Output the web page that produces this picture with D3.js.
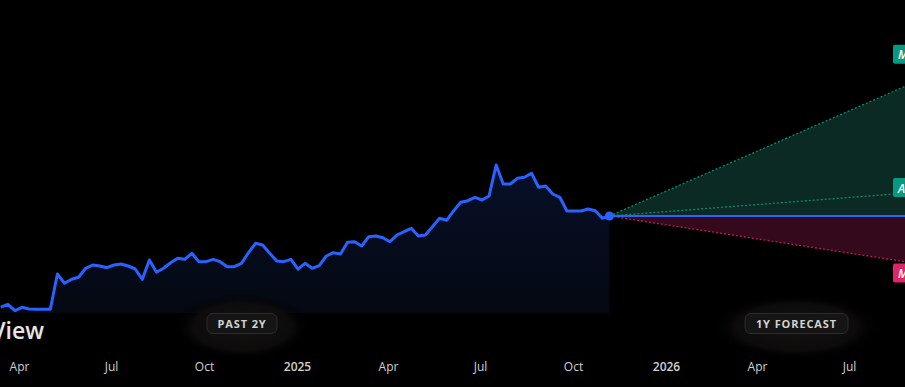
<!DOCTYPE html>
<html>
<head>
<meta charset="utf-8">
<script src="https://cdn.jsdelivr.net/npm/d3@7"></script>
<style>
  html, body { margin: 0; padding: 0; background: #000; }
  svg { display: block; }
</style>
</head>
<body>
<div id="chart"></div>
<script>
///// Data

// weekly closes, past 2Y (visible part), first week starting 2024-03-14
let firstWeek = "2024-03-14";
let closes = [
  13.9, 15.35, 12.15, 13.85, 13.0, 12.85, 12.85, 12.85, 30.5, 25.85,
  27.85, 28.85, 33.35, 35.0, 34.5, 33.65, 35.0, 35.5, 34.5, 33.0,
  27.85, 37.5, 31.35, 33.35, 36.15, 38.35, 37.85, 40.85, 36.65, 36.65,
  37.85, 36.65, 34.15, 34.15, 35.85, 41.15, 45.85, 45.0, 40.85, 37.0,
  36.65, 37.85, 32.9, 35.85, 33.35, 34.65, 39.5, 41.15, 40.5, 46.35,
  46.65, 44.5, 49.15, 49.5, 48.65, 46.65, 50.0, 51.65, 53.35, 49.5,
  50.0, 54.15, 58.35, 57.35, 62.15, 66.35, 67.15, 68.85, 67.5, 69.5,
  85.0, 75.5, 75.5, 78.35, 78.85, 80.85, 73.85, 74.5, 70.5, 68.85,
  62.0, 62.0, 62.0, 63.0, 62.15, 58.35, 59.5
];

// 1Y forecast targets
let forecastNames = ["Max", "Avg", "Min"];
let forecastValues = [140.4, 73.75, 31.0];

// x axis
let tickDates = ["2024-04-01", "2024-07-01", "2024-10-01", "2025-01-01", "2025-04-01",
                 "2025-07-01", "2025-10-01", "2026-01-01", "2026-04-01", "2026-07-01"];
let tickLabels = ["Apr", "Jul", "Oct", "2025", "Apr", "Jul", "Oct", "2026", "Apr", "Jul"];

///// Layout

let width = 905, height = 387;
let plotBottom = 313;

let weeks = closes.map(function(c, i) {
    return { date: d3.utcDay.offset(new Date(firstWeek), 7 * i), value: c };
});
let last = weeks[weeks.length - 1];
let forecastEnd = d3.utcYear.offset(last.date, 1);

let x = d3.scaleUtc()
    .domain([new Date("2025-01-01"), new Date("2026-01-01")])
    .range([297, 666]);
let y = d3.scaleLinear().domain([0, 150]).range([335, 35]);

let svg = d3.select("#chart").append("svg")
    .attr("width", width)
    .attr("height", height)
    .style("background", "#000");

let defs = svg.append("defs");

let areaGrad = defs.append("linearGradient")
    .attr("id", "areaGrad").attr("x1", 0).attr("y1", 0).attr("x2", 0).attr("y2", 1);
areaGrad.append("stop").attr("offset", "0%").attr("stop-color", "#07102a");
areaGrad.append("stop").attr("offset", "100%").attr("stop-color", "#040811");

let halo = defs.append("radialGradient").attr("id", "halo");
halo.append("stop").attr("offset", "0%").attr("stop-color", "#151212").attr("stop-opacity", 1);
halo.append("stop").attr("offset", "70%").attr("stop-color", "#0f0c0c").attr("stop-opacity", 0.9);
halo.append("stop").attr("offset", "100%").attr("stop-color", "#000").attr("stop-opacity", 0);

///// Forecast cone

let origin = [x(last.date), y(last.value)];
let ends = forecastValues.map(function(v) { return [x(forecastEnd), y(v)]; });
let flatEnd = [x(forecastEnd), y(last.value)];

svg.append("path")
    .attr("d", d3.line()([origin, ends[0], flatEnd]) + "Z")
    .attr("fill", "#0b2a24");
svg.append("path")
    .attr("d", d3.line()([origin, flatEnd, ends[2]]) + "Z")
    .attr("fill", "#33091b");

let coneColors = ["#0b8a72", "#0b8a72", "#c2185b"];
ends.forEach(function(e, i) {
    svg.append("path")
        .attr("d", d3.line()([origin, e]))
        .attr("stroke", coneColors[i])
        .attr("stroke-width", 1.3)
        .attr("stroke-dasharray", "2,2")
        .attr("fill", "none");
});

svg.append("path")
    .attr("d", d3.line()([origin, flatEnd]))
    .attr("stroke", "#2962ff")
    .attr("stroke-width", 2)
    .attr("fill", "none");

///// Past area + line

svg.append("path")
    .datum(weeks)
    .attr("fill", "url(#areaGrad)")
    .attr("d", d3.area()
        .x(function(d) { return x(d.date); })
        .y0(plotBottom)
        .y1(function(d) { return y(d.value); }));

svg.append("path")
    .datum(weeks)
    .attr("fill", "none")
    .attr("stroke", "#2962ff")
    .attr("stroke-width", 3)
    .attr("stroke-linejoin", "round")
    .attr("d", d3.line()
        .x(function(d) { return x(d.date); })
        .y(function(d) { return y(d.value); }));

svg.append("circle")
    .attr("cx", origin[0]).attr("cy", origin[1]).attr("r", 4.5)
    .attr("fill", "#2962ff");

///// Forecast labels (clipped at right edge, as in the original)

let labelColors = ["#089981", "#089981", "#e0246a"];
forecastValues.forEach(function(v, i) {
    let g = svg.append("g").attr("transform", "translate(893," + y(v) + ")");
    g.append("rect")
        .attr("x", 0).attr("y", -9.5).attr("width", 70).attr("height", 19).attr("rx", 2)
        .attr("fill", labelColors[i]);
    g.append("text")
        .attr("x", 5).attr("y", 5)
        .attr("fill", "#fff")
        .attr("font-family", "Open Sans, sans-serif")
        .attr("font-style", "italic")
        .attr("font-weight", 600)
        .attr("font-size", 12)
        .text(forecastNames[i] + " " + v.toFixed(2));
});

///// Buttons

function button(cx, label, w) {
    svg.append("ellipse")
        .attr("cx", cx).attr("cy", 327).attr("rx", w / 2 + 34).attr("ry", 33)
        .attr("fill", "url(#halo)");
    svg.append("rect")
        .attr("x", cx - w / 2).attr("y", 313.5).attr("width", w).attr("height", 20).attr("rx", 6)
        .attr("fill", "#151515")
        .attr("stroke", "#2c2c2c");
    svg.append("text")
        .attr("x", cx).attr("y", 327.5)
        .attr("text-anchor", "middle")
        .attr("fill", "#d2d2d2")
        .attr("font-family", "Open Sans, sans-serif")
        .attr("font-weight", 700)
        .attr("font-size", 11)
        .attr("letter-spacing", 0.9)
        .text(label);
}
button(242, "PAST 2Y", 70);
button(796.5, "1Y FORECAST", 103);

///// Title fragment

svg.append("text")
    .attr("x", 44).attr("y", 339)
    .attr("text-anchor", "end")
    .attr("fill", "#e6e6e6")
    .attr("font-family", "Open Sans, sans-serif")
    .attr("font-weight", 600)
    .attr("font-size", 23)
    .text("TradingView");

///// X axis

let axis = svg.append("g")
    .attr("transform", "translate(0,362)")
    .call(d3.axisBottom(x)
        .tickValues(tickDates.map(function(d) { return new Date(d); }))
        .tickFormat(function(d, i) { return tickLabels[i]; })
        .tickSize(0)
        .tickPadding(0));
axis.select(".domain").remove();
axis.selectAll("text")
    .attr("fill", "#d0d0d0")
    .attr("font-family", "Open Sans, sans-serif")
    .attr("font-size", 12)
    .attr("font-weight", function(d, i) { return tickLabels[i].length === 4 ? 600 : 500; });
</script>
</body>
</html>
